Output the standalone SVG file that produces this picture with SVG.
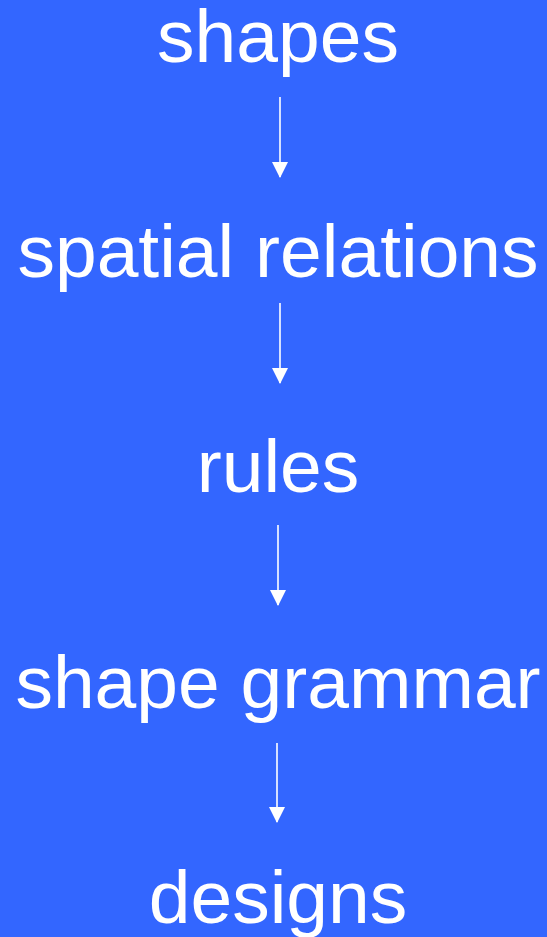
<svg xmlns="http://www.w3.org/2000/svg" width="547" height="937" viewBox="0 0 547 937">
<style>
.lbl{font-family:"Liberation Sans",Arial,sans-serif;font-size:75px;fill:#ffffff;text-anchor:middle}
.con{stroke:#ffffff;stroke-width:1.6;fill:none;marker-end:url(#ah)}
</style>
<defs>
<marker id="ah" markerUnits="userSpaceOnUse" markerWidth="16" markerHeight="17" refX="15" refY="8" orient="auto" viewBox="0 0 16 16">
<path d="M0,0 L16,8 L0,16 Z" fill="#ffffff"/>
</marker>
</defs>
<rect width="547" height="937" fill="#3366ff"/>
<g id="connectors">
<line class="con" x1="280" y1="97" x2="280" y2="177"/>
<line class="con" x1="280" y1="303" x2="280" y2="383"/>
<line class="con" x1="278" y1="525" x2="278" y2="605"/>
<line class="con" x1="277" y1="743" x2="277" y2="822"/>
</g>
<g id="n-shapes"><text class="lbl" x="278" y="62">shapes</text></g>
<g id="n-spatial"><text class="lbl" x="278" y="277">spatial relations</text></g>
<g id="n-rules"><text class="lbl" x="278" y="492">rules</text></g>
<g id="n-grammar"><text class="lbl" x="278" y="708">shape grammar</text></g>
<g id="n-designs"><text class="lbl" x="278" y="923">designs</text></g>
</svg>
